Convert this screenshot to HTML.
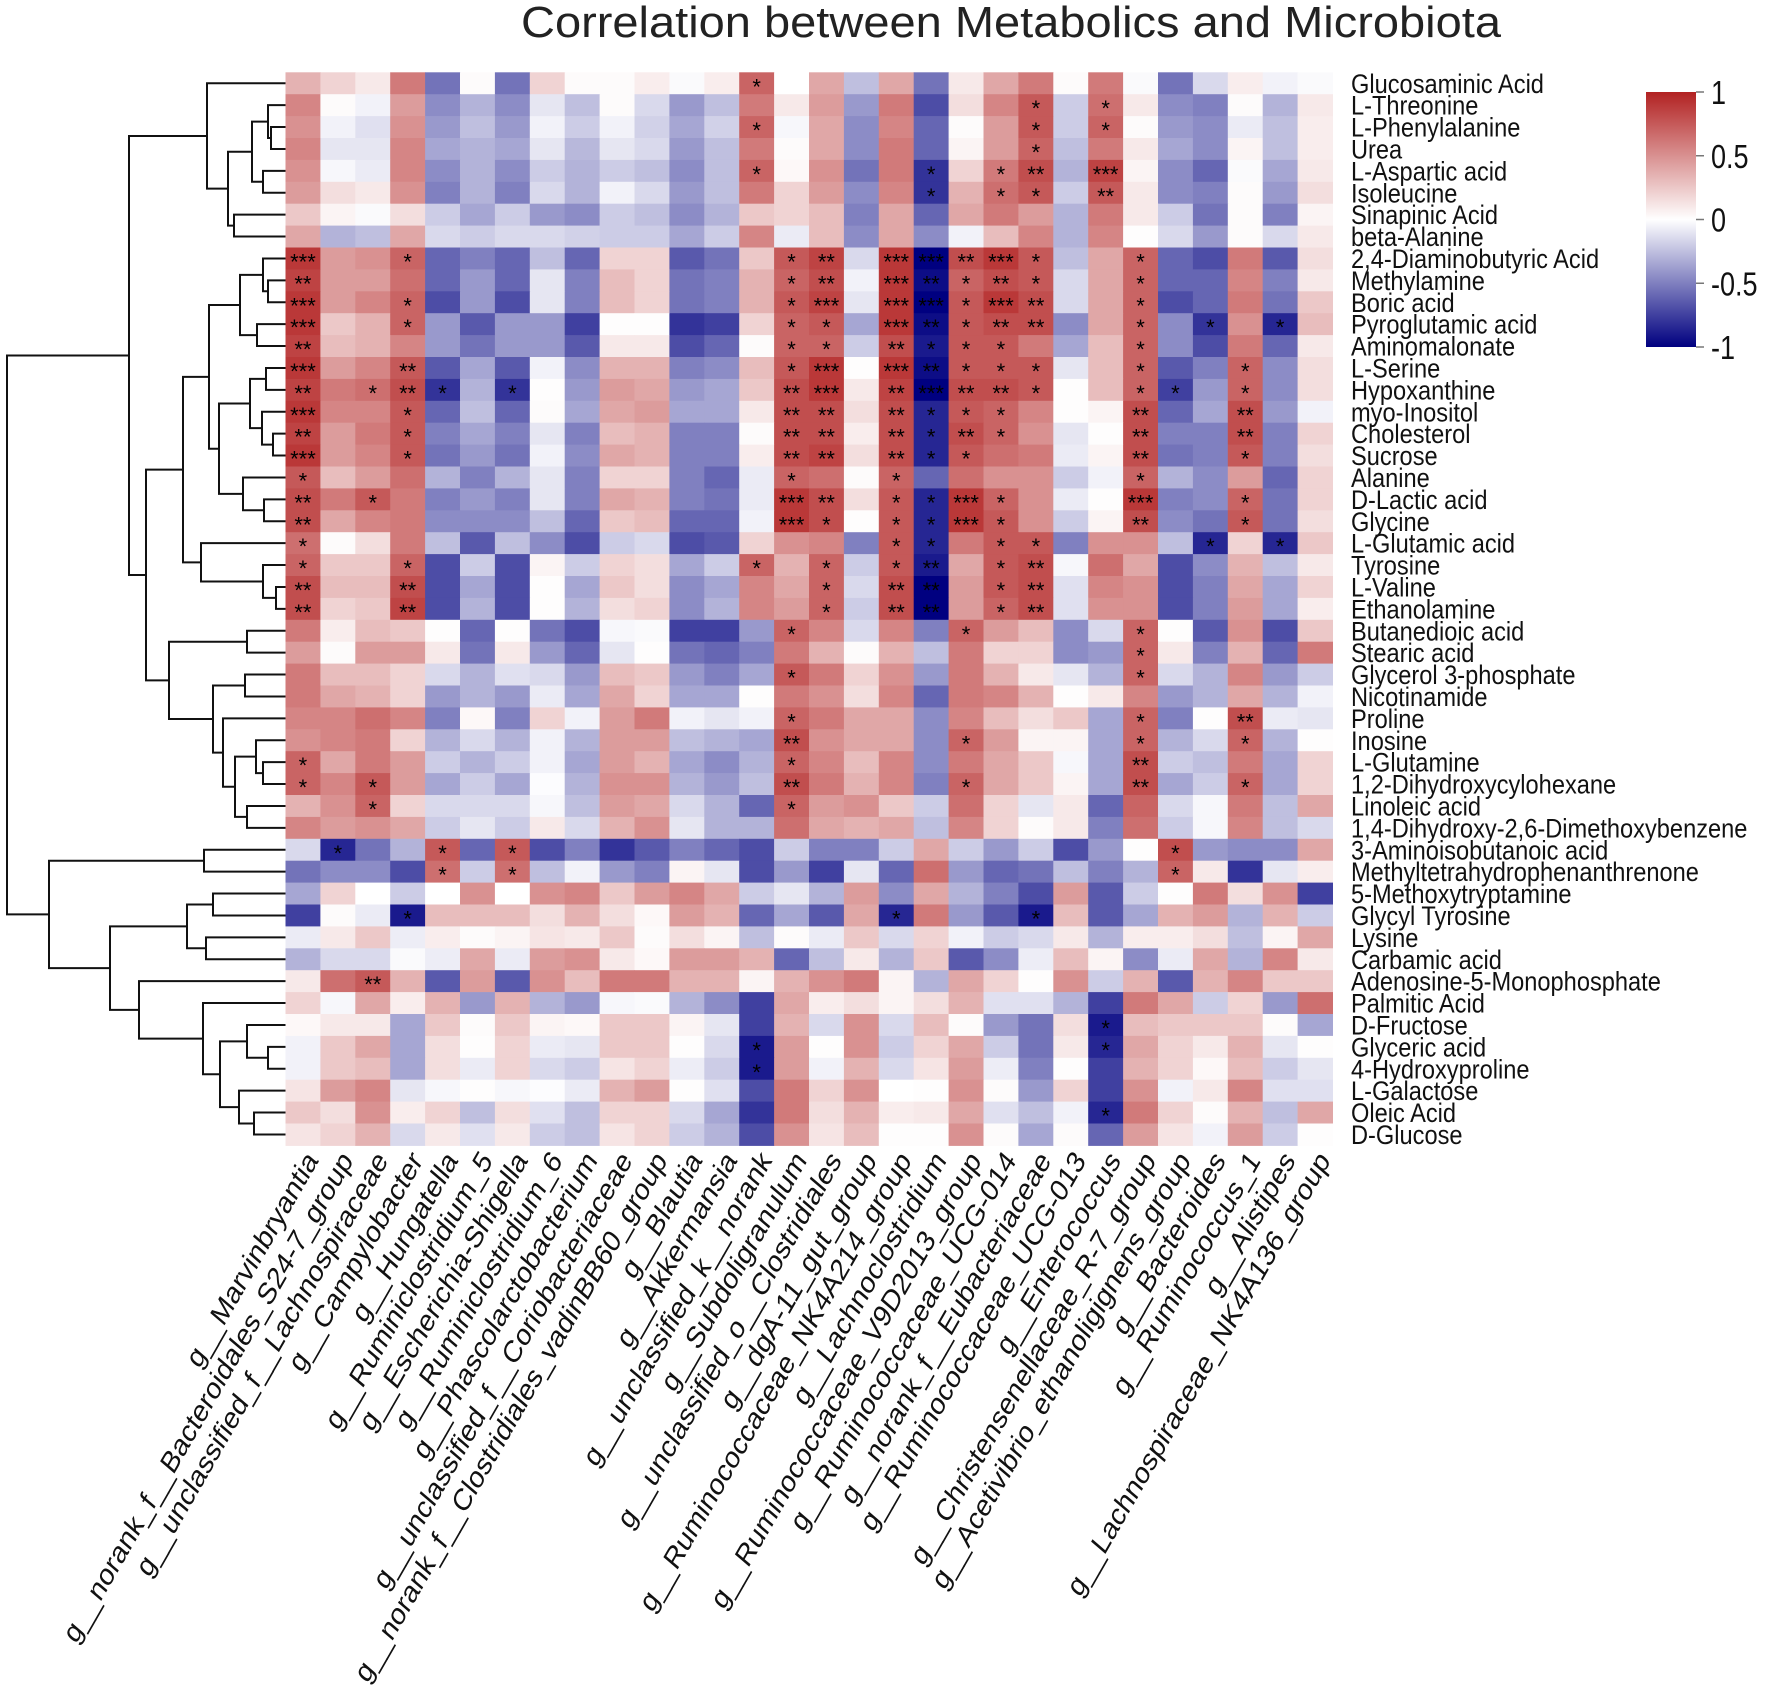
<!DOCTYPE html>
<html><head><meta charset="utf-8"><style>
html,body{margin:0;padding:0;background:#fff;}
svg{display:block;font-family:"Liberation Sans",Arial,sans-serif;}
</style></head><body>
<svg id="chart" width="1772" height="1689" viewBox="0 0 1772 1689" xmlns="http://www.w3.org/2000/svg">
<defs><linearGradient id="cbar" x1="0" y1="0" x2="0" y2="1">
<stop offset="0" stop-color="rgb(178,34,34)"/><stop offset="0.5" stop-color="#ffffff"/><stop offset="1" stop-color="rgb(0,0,128)"/></linearGradient></defs>
<text x="521" y="37" font-size="44" textLength="980" lengthAdjust="spacingAndGlyphs" fill="#222">Correlation between Metabolics and Microbiota</text>
<g id="dendro"></g>
<g id="cells"></g>
<g id="stars"></g>
<g id="rowlabels"></g>
<g id="collabels"></g>
<g id="legend">
<rect x="1646" y="92" width="50" height="255" fill="url(#cbar)"/>
</g>
</svg>
<script>
const rowNames = ["Glucosaminic Acid","L-Threonine","L-Phenylalanine","Urea","L-Aspartic acid","Isoleucine","Sinapinic Acid","beta-Alanine","2,4-Diaminobutyric Acid","Methylamine","Boric acid","Pyroglutamic acid","Aminomalonate","L-Serine","Hypoxanthine","myo-Inositol","Cholesterol","Sucrose","Alanine","D-Lactic acid","Glycine","L-Glutamic acid","Tyrosine","L-Valine","Ethanolamine","Butanedioic acid","Stearic acid","Glycerol 3-phosphate","Nicotinamide","Proline","Inosine","L-Glutamine","1,2-Dihydroxycylohexane","Linoleic acid","1,4-Dihydroxy-2,6-Dimethoxybenzene","3-Aminoisobutanoic acid","Methyltetrahydrophenanthrenone","5-Methoxytryptamine","Glycyl Tyrosine","Lysine","Carbamic acid","Adenosine-5-Monophosphate","Palmitic Acid","D-Fructose","Glyceric acid","4-Hydroxyproline","L-Galactose","Oleic Acid","D-Glucose"];
const colNames = ["g__Marvinbryantia","g__norank_f__Bacteroidales_S24-7_group","g__unclassified_f__Lachnospiraceae","g__Campylobacter","g__Hungatella","g__Ruminiclostridium_5","g__Escherichia-Shigella","g__Ruminiclostridium_6","g__Phascolarctobacterium","g__unclassified_f__Coriobacteriaceae","g__norank_f__Clostridiales_vadinBB60_group","g__Blautia","g__Akkermansia","g__unclassified_k__norank","g__Subdoligranulum","g__unclassified_o__Clostridiales","g__dgA-11_gut_group","g__Ruminococcaceae_NK4A214_group","g__Lachnoclostridium","g__Ruminococcaceae_V9D2013_group","g__Ruminococcaceae_UCG-014","g__norank_f__Eubacteriaceae","g__Ruminococcaceae_UCG-013","g__Enterococcus","g__Christensenellaceae_R-7_group","g__Acetivibrio_ethanoligignens_group","g__Bacteroides","g__Ruminococcus_1","g__Alistipes","g__Lachnospiraceae_NK4A136_group"];
const legendTicks = [1, 0.5, 0, -0.5, -1];
const legendTickLabels = ["1","0.5","0","-0.5","-1"];
const values = [
[0.35,0.2,0.1,0.6,-0.55,0.02,-0.55,0.2,0.02,0.02,0.08,-0.02,0.08,0.7,0.0,0.4,-0.25,0.4,-0.55,0.1,0.4,0.6,0.02,0.6,-0.02,-0.55,-0.15,0.08,-0.05,-0.02],
[0.55,0.02,-0.05,0.45,-0.45,-0.3,-0.45,-0.1,-0.25,0.02,-0.15,-0.4,-0.25,0.6,0.1,0.45,-0.4,0.6,-0.7,0.15,0.55,0.75,-0.2,0.65,0.1,-0.45,-0.5,0.02,-0.3,0.1],
[0.5,-0.05,-0.12,0.5,-0.4,-0.25,-0.4,-0.05,-0.2,-0.05,-0.18,-0.35,-0.18,0.7,-0.03,0.4,-0.45,0.55,-0.6,0.02,0.45,0.75,-0.2,0.7,0.02,-0.4,-0.45,-0.08,-0.25,0.08],
[0.55,-0.1,-0.1,0.55,-0.35,-0.3,-0.35,-0.1,-0.28,-0.1,-0.15,-0.4,-0.25,0.6,0.02,0.4,-0.45,0.6,-0.6,0.05,0.45,0.7,-0.25,0.6,0.1,-0.35,-0.45,0.05,-0.25,0.08],
[0.5,-0.03,-0.08,0.55,-0.45,-0.3,-0.45,-0.2,-0.3,-0.2,-0.25,-0.45,-0.25,0.7,0.03,0.5,-0.55,0.6,-0.8,0.2,0.6,0.8,-0.3,0.85,0.05,-0.45,-0.6,-0.02,-0.35,0.1],
[0.45,0.15,0.1,0.5,-0.5,-0.3,-0.5,-0.15,-0.3,-0.05,-0.15,-0.4,-0.25,0.6,0.2,0.45,-0.45,0.55,-0.8,0.35,0.65,0.75,-0.2,0.75,0.1,-0.45,-0.5,0.02,-0.4,0.15],
[0.25,0.05,-0.02,0.15,-0.2,-0.35,-0.2,-0.4,-0.45,-0.2,-0.25,-0.45,-0.3,0.25,0.2,0.3,-0.5,0.4,-0.6,0.4,0.6,0.45,-0.3,0.6,0.1,-0.2,-0.55,0.02,-0.5,0.05],
[0.4,-0.3,-0.25,0.4,-0.15,-0.2,-0.15,-0.15,-0.18,-0.2,-0.2,-0.35,-0.2,0.55,-0.08,0.3,-0.45,0.4,-0.45,-0.05,0.3,0.55,-0.3,0.55,0.01,-0.15,-0.4,0.02,-0.15,0.1],
[0.9,0.45,0.5,0.7,-0.6,-0.5,-0.6,-0.25,-0.6,0.2,0.2,-0.65,-0.55,0.25,0.75,0.85,-0.15,0.9,-1,0.8,0.9,0.75,-0.25,0.4,0.7,-0.6,-0.7,0.6,-0.65,0.15],
[0.85,0.45,0.45,0.65,-0.6,-0.4,-0.6,-0.1,-0.5,0.3,0.2,-0.55,-0.5,0.35,0.7,0.8,-0.05,0.9,-0.95,0.7,0.8,0.75,-0.15,0.4,0.7,-0.6,-0.6,0.55,-0.5,0.1],
[0.9,0.45,0.55,0.7,-0.7,-0.4,-0.7,-0.1,-0.5,0.3,0.2,-0.55,-0.5,0.35,0.75,0.85,-0.1,0.9,-1,0.75,0.9,0.8,-0.15,0.4,0.7,-0.7,-0.6,0.6,-0.55,0.25],
[0.9,0.25,0.35,0.7,-0.4,-0.65,-0.4,-0.4,-0.75,0.01,0.01,-0.8,-0.75,0.2,0.7,0.75,-0.35,0.9,-0.95,0.75,0.8,0.8,-0.45,0.4,0.7,-0.45,-0.8,0.5,-0.85,0.3],
[0.85,0.3,0.35,0.55,-0.4,-0.55,-0.4,-0.4,-0.65,0.1,0.1,-0.7,-0.6,0.02,0.7,0.7,-0.2,0.8,-0.9,0.75,0.75,0.6,-0.35,0.3,0.7,-0.45,-0.7,0.6,-0.6,0.1],
[0.9,0.45,0.55,0.75,-0.65,-0.35,-0.65,-0.05,-0.45,0.35,0.35,-0.5,-0.45,0.3,0.75,0.9,0.01,0.9,-0.95,0.75,0.75,0.75,-0.1,0.3,0.7,-0.65,-0.5,0.7,-0.45,0.15],
[0.85,0.6,0.65,0.8,-0.8,-0.3,-0.8,0.01,-0.4,0.45,0.4,-0.4,-0.35,0.25,0.8,0.9,0.1,0.85,-1,0.8,0.8,0.75,0.01,0.3,0.7,-0.75,-0.4,0.7,-0.45,0.15],
[0.9,0.55,0.55,0.75,-0.6,-0.25,-0.6,0.02,-0.35,0.4,0.45,-0.35,-0.35,0.1,0.8,0.8,0.15,0.8,-0.85,0.75,0.7,0.55,0.01,0.05,0.8,-0.6,-0.35,0.8,-0.4,-0.05],
[0.85,0.45,0.6,0.75,-0.5,-0.35,-0.5,-0.1,-0.5,0.3,0.35,-0.5,-0.5,0.02,0.8,0.8,0.08,0.8,-0.85,0.8,0.7,0.5,-0.1,0.01,0.8,-0.5,-0.5,0.8,-0.5,0.2],
[0.9,0.45,0.55,0.75,-0.55,-0.4,-0.55,-0.05,-0.45,0.4,0.35,-0.5,-0.5,0.08,0.8,0.85,0.15,0.8,-0.85,0.75,0.65,0.6,-0.08,0.05,0.8,-0.55,-0.5,0.75,-0.5,0.15],
[0.75,0.3,0.45,0.65,-0.3,-0.5,-0.3,-0.1,-0.5,0.2,0.2,-0.5,-0.6,-0.08,0.7,0.65,0.02,0.7,-0.6,0.65,0.5,0.5,-0.2,-0.05,0.7,-0.3,-0.45,0.45,-0.6,0.2],
[0.8,0.6,0.75,0.6,-0.5,-0.4,-0.5,-0.1,-0.5,0.4,0.35,-0.5,-0.55,-0.08,0.9,0.8,0.15,0.75,-0.85,0.9,0.7,0.5,-0.08,0.01,0.9,-0.5,-0.45,0.7,-0.55,0.2],
[0.8,0.4,0.55,0.6,-0.45,-0.45,-0.45,-0.25,-0.6,0.25,0.3,-0.6,-0.6,-0.05,0.9,0.8,0.01,0.75,-0.85,0.9,0.75,0.5,-0.2,0.05,0.8,-0.45,-0.55,0.75,-0.55,0.15],
[0.65,0.02,0.15,0.6,-0.25,-0.65,-0.25,-0.45,-0.7,-0.2,-0.15,-0.7,-0.65,0.2,0.5,0.55,-0.5,0.75,-0.85,0.6,0.75,0.75,-0.5,0.5,0.5,-0.25,-0.85,0.2,-0.85,0.25],
[0.7,0.25,0.25,0.7,-0.7,-0.2,-0.7,0.05,-0.2,0.2,0.15,-0.35,-0.2,0.7,0.35,0.7,-0.2,0.75,-0.9,0.4,0.75,0.8,-0.03,0.65,0.4,-0.7,-0.45,0.35,-0.25,0.1],
[0.8,0.3,0.3,0.8,-0.7,-0.35,-0.7,0.01,-0.35,0.25,0.15,-0.45,-0.35,0.55,0.4,0.7,-0.15,0.8,-1,0.45,0.75,0.8,-0.12,0.55,0.5,-0.7,-0.5,0.4,-0.35,0.2],
[0.8,0.2,0.25,0.85,-0.7,-0.3,-0.7,0.01,-0.3,0.15,0.2,-0.45,-0.3,0.55,0.45,0.7,-0.2,0.8,-1,0.45,0.7,0.8,-0.12,0.5,0.5,-0.7,-0.5,0.45,-0.35,0.08],
[0.6,0.08,0.3,0.25,0.01,-0.6,0.01,-0.55,-0.7,-0.03,-0.02,-0.75,-0.75,-0.4,0.7,0.55,-0.15,0.55,-0.5,0.7,0.45,0.3,-0.45,-0.15,0.7,0.01,-0.65,0.5,-0.7,0.25],
[0.45,0.02,0.45,0.45,0.1,-0.55,0.1,-0.4,-0.6,-0.1,0.01,-0.55,-0.6,-0.5,0.6,0.35,0.02,0.35,-0.25,0.6,0.2,0.2,-0.45,-0.4,0.7,0.1,-0.5,0.35,-0.6,0.6],
[0.6,0.3,0.3,0.2,-0.15,-0.3,-0.12,-0.15,-0.4,0.3,0.25,-0.4,-0.5,-0.35,0.75,0.6,0.2,0.5,-0.4,0.6,0.35,0.1,-0.1,-0.3,0.7,-0.15,-0.3,0.55,-0.4,-0.2],
[0.6,0.4,0.35,0.2,-0.4,-0.3,-0.4,-0.08,-0.35,0.4,0.2,-0.35,-0.35,0.01,0.6,0.5,0.15,0.55,-0.6,0.6,0.55,0.35,0.01,0.1,0.55,-0.4,-0.3,0.4,-0.3,-0.05],
[0.55,0.55,0.65,0.55,-0.5,0.03,-0.5,0.2,-0.05,0.45,0.6,-0.05,-0.1,-0.05,0.7,0.6,0.4,0.4,-0.45,0.55,0.3,0.15,0.25,-0.35,0.7,-0.5,0.01,0.8,-0.08,-0.1],
[0.5,0.55,0.6,0.2,-0.3,-0.15,-0.3,-0.05,-0.3,0.45,0.45,-0.25,-0.3,-0.35,0.8,0.5,0.4,0.4,-0.45,0.7,0.45,0.05,0.05,-0.35,0.7,-0.3,-0.15,0.7,-0.3,0.01],
[0.7,0.4,0.6,0.45,-0.2,-0.3,-0.2,-0.05,-0.35,0.45,0.35,-0.35,-0.45,-0.3,0.7,0.55,0.3,0.55,-0.45,0.6,0.4,0.25,-0.03,-0.35,0.8,-0.2,-0.25,0.6,-0.35,0.2],
[0.7,0.55,0.75,0.45,-0.35,-0.2,-0.35,-0.01,-0.3,0.5,0.5,-0.3,-0.4,-0.25,0.8,0.6,0.35,0.55,-0.5,0.7,0.4,0.25,0.05,-0.35,0.8,-0.35,-0.2,0.7,-0.35,0.2],
[0.35,0.5,0.7,0.2,-0.15,-0.15,-0.15,-0.03,-0.25,0.45,0.4,-0.15,-0.3,-0.6,0.7,0.45,0.5,0.25,-0.2,0.65,0.2,-0.1,0.1,-0.6,0.7,-0.15,-0.03,0.6,-0.25,0.4],
[0.55,0.45,0.5,0.4,-0.2,-0.1,-0.2,0.1,-0.15,0.35,0.5,-0.1,-0.3,-0.3,0.65,0.4,0.35,0.4,-0.25,0.55,0.2,0.02,0.1,-0.5,0.65,-0.2,-0.03,0.55,-0.25,-0.15],
[-0.15,-0.85,-0.55,-0.3,0.75,-0.6,0.75,-0.7,-0.5,-0.8,-0.65,-0.5,-0.6,-0.7,-0.2,-0.5,-0.5,-0.2,0.4,-0.2,-0.4,-0.2,-0.7,-0.4,0.01,0.8,-0.4,-0.45,-0.45,0.4],
[-0.55,-0.45,-0.45,-0.7,0.65,-0.2,0.65,-0.25,-0.05,-0.4,-0.5,0.05,-0.1,-0.7,-0.4,-0.75,-0.1,-0.6,0.65,-0.4,-0.6,-0.55,-0.25,-0.5,-0.3,0.7,0.1,-0.8,-0.1,0.08],
[-0.35,0.2,0.0,-0.2,0.0,0.5,0.0,0.5,0.55,0.25,0.45,0.55,0.4,-0.2,-0.1,-0.3,0.45,-0.45,0.4,-0.3,-0.5,-0.7,0.45,-0.65,-0.2,0.01,0.6,0.15,0.5,-0.75],
[-0.75,0.02,-0.08,-0.9,0.3,0.3,0.3,0.15,0.35,0.15,0.03,0.45,0.35,-0.6,-0.35,-0.65,0.4,-0.85,0.6,-0.4,-0.65,-0.9,0.3,-0.65,-0.35,0.35,0.45,-0.3,0.35,-0.2],
[-0.08,0.1,0.25,-0.07,0.08,0.02,0.05,0.12,0.1,0.25,0.02,0.15,0.05,-0.25,0.02,-0.08,0.25,-0.15,0.2,-0.05,-0.2,-0.15,0.1,-0.3,0.08,0.08,0.15,-0.25,0.05,0.4],
[-0.3,-0.15,-0.15,-0.02,-0.07,0.4,-0.08,0.45,0.5,0.1,0.03,0.45,0.45,0.35,-0.6,-0.25,0.1,-0.3,0.25,-0.65,-0.45,-0.07,0.3,0.05,-0.45,-0.08,0.4,-0.3,0.55,0.1],
[0.1,0.65,0.75,0.35,-0.65,0.45,-0.65,0.5,0.3,0.6,0.6,0.35,0.35,0.05,0.35,0.5,0.6,0.05,-0.3,0.4,0.2,0.01,0.5,-0.2,0.35,-0.65,0.35,0.55,0.25,0.25],
[0.2,-0.03,0.4,0.08,0.35,-0.4,0.35,-0.3,-0.4,-0.03,-0.02,-0.3,-0.45,-0.75,0.4,0.08,0.15,0.05,0.15,0.35,-0.12,-0.12,-0.3,-0.75,0.6,0.4,-0.2,0.2,-0.4,0.65],
[0.03,0.1,0.1,-0.35,0.25,0.02,0.25,0.05,0.03,0.25,0.25,0.05,-0.1,-0.75,0.35,-0.15,0.5,-0.15,0.3,0.02,-0.4,-0.55,0.15,-0.9,0.3,0.25,0.25,0.25,0.02,-0.35],
[-0.05,0.25,0.4,-0.35,0.15,0.01,0.2,-0.08,-0.1,0.25,0.25,0.01,-0.15,-0.9,0.45,0.01,0.5,-0.2,0.2,0.4,-0.2,-0.55,0.1,-0.85,0.4,0.2,0.1,0.35,-0.1,0.01],
[-0.05,0.25,0.3,-0.35,0.15,-0.08,0.2,-0.15,-0.2,0.12,0.2,-0.07,-0.2,-0.9,0.45,-0.05,0.35,-0.15,0.12,0.45,-0.07,-0.5,0.01,-0.75,0.35,0.2,0.03,0.3,-0.2,-0.1],
[0.12,0.45,0.55,-0.1,-0.03,0.01,-0.03,-0.01,-0.08,0.35,0.45,0.01,-0.12,-0.7,0.6,0.2,0.5,0.0,0.01,0.5,0.02,-0.4,0.2,-0.75,0.5,-0.05,0.1,0.55,-0.12,-0.12],
[0.25,0.15,0.5,0.08,0.2,-0.25,0.15,-0.12,-0.25,0.2,0.2,-0.15,-0.35,-0.8,0.6,0.15,0.35,0.08,0.1,0.4,-0.12,-0.25,-0.05,-0.85,0.6,0.2,0.02,0.35,-0.25,0.4],
[0.12,0.2,0.35,-0.15,0.1,-0.12,0.1,-0.2,-0.25,0.12,0.2,-0.2,-0.3,-0.7,0.5,0.12,0.3,0.01,0.01,0.5,0.02,-0.35,0.02,-0.6,0.45,0.12,-0.05,0.45,-0.2,0.01]
];
const stars = [
[[13,1]],[[21,1],[23,1]],[[13,1],[21,1],[23,1]],[[21,1]],
[[13,1],[18,1],[20,1],[21,2],[23,3]],[[18,1],[20,1],[21,1],[23,2]],[],[],
[[0,3],[3,1],[14,1],[15,2],[17,3],[18,3],[19,2],[20,3],[21,1],[24,1]],
[[0,2],[14,1],[15,2],[17,3],[18,2],[19,1],[20,2],[21,1],[24,1]],
[[0,3],[3,1],[14,1],[15,3],[17,3],[18,3],[19,1],[20,3],[21,2],[24,1]],
[[0,3],[3,1],[14,1],[15,1],[17,3],[18,2],[19,1],[20,2],[21,2],[24,1],[26,1],[28,1]],
[[0,2],[14,1],[15,1],[17,2],[18,1],[19,1],[20,1],[24,1]],
[[0,3],[3,2],[14,1],[15,3],[17,3],[18,2],[19,1],[20,1],[21,1],[24,1],[27,1]],
[[0,2],[2,1],[3,2],[4,1],[6,1],[14,2],[15,3],[17,2],[18,3],[19,2],[20,2],[21,1],[24,1],[25,1],[27,1]],
[[0,3],[3,1],[14,2],[15,2],[17,2],[18,1],[19,1],[20,1],[24,2],[27,2]],
[[0,2],[3,1],[14,2],[15,2],[17,2],[18,1],[19,2],[20,1],[24,2],[27,2]],
[[0,3],[3,1],[14,2],[15,2],[17,2],[18,1],[19,1],[24,2],[27,1]],
[[0,1],[14,1],[17,1],[24,1]],
[[0,2],[2,1],[14,3],[15,2],[17,1],[18,1],[19,3],[20,1],[24,3],[27,1]],
[[0,2],[14,3],[15,1],[17,1],[18,1],[19,3],[20,1],[24,2],[27,1]],
[[0,1],[17,1],[18,1],[20,1],[21,1],[26,1],[28,1]],
[[0,1],[3,1],[13,1],[15,1],[17,1],[18,2],[20,1],[21,2]],
[[0,2],[3,2],[15,1],[17,2],[18,2],[20,1],[21,2]],
[[0,2],[3,2],[15,1],[17,2],[18,2],[20,1],[21,2]],
[[14,1],[19,1],[24,1]],[[24,1]],[[14,1],[24,1]],[],
[[14,1],[24,1],[27,2]],[[14,2],[19,1],[24,1],[27,1]],[[0,1],[14,1],[24,2]],
[[0,1],[2,1],[14,2],[19,1],[24,2],[27,1]],[[2,1],[14,1]],[],
[[1,1],[4,1],[6,1],[25,1]],[[4,1],[6,1],[25,1]],[],[[3,1],[17,1],[21,1]],[],[],
[[2,2]],[],[[23,1]],[[13,1],[23,1]],[[13,1]],[],[[23,1]],[]
];
// dendrogram merge heights (x px) : [x, left, right]
const tree = [7,
 [129,
  [207,0,[228,[252,[268,1,[271,2,3]],[263,4,5]],[234,6,7]]],
  [146,
   [183,
    [209,[240,[263,8,[268,9,10]],[257,11,12]],[219,[250,[266,13,14],[262,15,[273,16,17]]],[243,18,[264,19,20]]]],
    [201,21,[263,22,[276,23,24]]]],
   [169,[247,25,26],[213,[245,27,28],[223,29,[235,[256,30,[263,31,32]],[247,33,34]]]]]]],
 [49,[204,35,36],[110,[187,[213,37,38],[206,39,40]],[139,41,[203,42,[220,[247,43,[268,44,45]],[239,46,[254,47,48]]]]]]]];

const NS="http://www.w3.org/2000/svg";
const X0=285.5, Y0=72.3, CW=34.9, RH=21.9;
const xScale = c => X0 + c*CW;
const yScale = r => Y0 + r*RH;
const legendY = v => 92 + (1 - v) / 2 * 255;
function color(v){
  v=Math.max(-1,Math.min(1,v));
  let r,g,b;
  if(v>=0){r=255+(178-255)*v;g=255+(34-255)*v;b=255+(34-255)*v;}
  else{const t=-v;r=255-255*t;g=255-255*t;b=255+(128-255)*t;}
  return `rgb(${Math.round(r)},${Math.round(g)},${Math.round(b)})`;
}
function mk(tag,attrs,parent){const e=document.createElementNS(NS,tag);for(const k in attrs)e.setAttribute(k,attrs[k]);parent.appendChild(e);return e;}

const cells=document.getElementById('cells');
values.forEach((row,r)=>row.forEach((v,c)=>{
  const e=mk('rect',{x:xScale(c).toFixed(2),y:yScale(r).toFixed(2),width:(CW+0.5).toFixed(2),height:(RH+0.5).toFixed(2),fill:color(v)},cells);
  
  
}));

const st=document.getElementById('stars');
stars.forEach((list,r)=>list.forEach(([c,n])=>{
  const t=mk('text',{x:(xScale(c)+CW/2).toFixed(2),y:(yScale(r)+RH/2+11).toFixed(2),'font-size':'22','text-anchor':'middle',fill:'#000'},st);
  t.textContent='*'.repeat(n);
  
  
}));

const rl=document.getElementById('rowlabels');
rowNames.forEach((name,r)=>{
  const t=mk('text',{transform:`translate(1351,${(yScale(r)+RH/2+9.5).toFixed(2)}) scale(0.875,1)`,'font-size':'27',fill:'#111'},rl);
  t.textContent=name;
  
  
});

const cl=document.getElementById('collabels');
colNames.forEach((name,c)=>{
  const t=mk('text',{transform:`translate(${(xScale(c)+CW/2+16).toFixed(2)},1161) scale(0.82,1) rotate(-55)`,'font-size':'31','text-anchor':'end',fill:'#111'},cl);
  t.textContent=name;
  
  
});

const lg=document.getElementById('legend');
legendTicks.forEach((v,i)=>{
  const y=legendY(v);
  const l=mk('line',{x1:1696,x2:1704,y1:y,y2:y,stroke:'#777','stroke-width':1.5},lg);
  
  
  const t=mk('text',{transform:`translate(1711,${(y+12).toFixed(2)}) scale(0.82,1)`,'font-size':'33',fill:'#111'},lg);
  t.textContent=legendTickLabels[i];
  
  
});

const dg=document.getElementById('dendro');
function draw(node){
  if(typeof node==='number') return {x:X0,y:yScale(node)+RH/2};
  const [x,a,b]=node;
  const A=draw(a),B=draw(b);
  const p=mk('path',{d:`M${A.x},${A.y}H${x}V${B.y}H${B.x}`,fill:'none',stroke:'#111','stroke-width':2},dg);
  
  
  return {x:x,y:(A.y+B.y)/2};
}
draw(tree);
</script>
</body></html>
